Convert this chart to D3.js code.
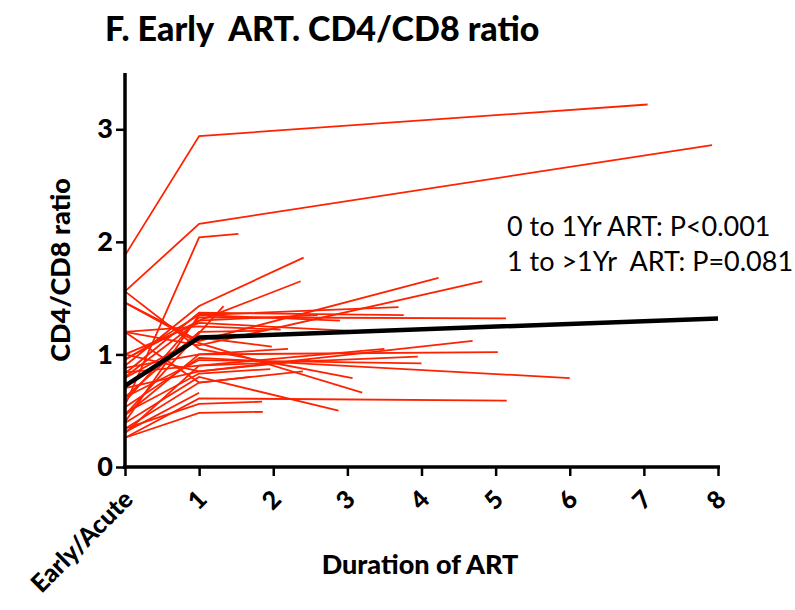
<!DOCTYPE html>
<html><head><meta charset="utf-8">
<script src="https://cdn.jsdelivr.net/npm/d3@7/dist/d3.min.js"></script>
<style>body{margin:0;background:#fff;} svg{display:block;} text{white-space:pre;}</style>
</head><body>
<script>
// ---- data ----
const xTickValues = [0,1,2,3,4,5,6,7,8];
const xTickLabels = ["Early/Acute","1","2","3","4","5","6","7","8"];
const yTickValues = [0,1,2,3];
// individual patients: [duration (yr), CD4/CD8 ratio]
const patients = [
  [[0,1.88],[1,2.94],[7.05,3.22]],
  [[0,1.56],[1,2.16],[7.92,2.86]],
  [[0,0.55],[1,2.04],[1.53,2.07]],
  [[0,0.90],[1,1.43],[2.41,1.86]],
  [[0,0.80],[1,1.30],[2.37,1.65]],
  [[0,0.46],[1.33,1.43]],
  [[0,1.46],[1,1.12],[4.23,1.68]],
  [[0,1.20],[1,1.08],[4.82,1.65]],
  [[0,0.95],[1,1.35],[3.69,1.42]],
  [[0,0.83],[1,1.37],[3.76,1.35]],
  [[0,0.58],[1,1.33],[5.14,1.32]],
  [[0,0.40],[1,1.35],[2.90,1.30]],
  [[0,1.00],[1,0.85],[4.69,1.12]],
  [[0,0.88],[1,1.00],[5.03,1.02]],
  [[0,0.30],[1,0.90],[3.95,0.98]],
  [[0,1.56],[1,1.05],[3.07,0.79]],
  [[0,1.46],[1,1.10],[3.20,0.66]],
  [[0,0.53],[1,0.97],[6.00,0.79]],
  [[0,0.26],[1,0.61],[5.15,0.59]],
  [[0,0.34],[1,0.56],[1.85,0.58]],
  [[0,0.26],[1,0.48],[1.86,0.49]],
  [[0,0.31],[1,0.66]],
  [[0,0.62],[1,1.20],[1.86,1.21]],
  [[0,0.79],[1,1.15],[1.98,1.07]],
  [[0,0.48],[1,0.83],[1.96,0.87]],
  [[0,0.39],[1,0.80],[2.88,0.50]],
  [[0,1.20],[1,0.75],[2.40,0.85]],
  [[0,0.96],[1,1.30],[2.60,1.35]],
  [[0,0.84],[1,0.90],[3.50,1.05]],
  [[0,0.46],[1,1.00],[2.20,1.05]],
  [[0,0.70],[1,0.85],[2.50,0.95]],
  [[0,1.20],[1,1.25],[2.10,1.22]],
  [[0,0.34],[1,0.75],[1.70,0.80]],
  [[0,1.00],[1,1.28],[3.30,1.20]],
  [[0,0.62],[1,0.95],[4.00,0.92]]
];
const meanLine = [[0,0.72],[1,1.15],[8,1.32]];
const annotations = ["0 to 1Yr ART: P<0.001","1 to >1Yr  ART: P=0.081"];

// ---- chart ----
const W=795,H=610;
const svg=d3.select("body").append("svg").attr("width",W).attr("height",H);
const x=d3.scaleLinear().domain([0,8]).range([125,718]);
const y=d3.scaleLinear().domain([0,3.5]).range([467,73]);
const font="Lato, 'Open Sans', sans-serif";

const line=d3.line().x(d=>x(d[0])).y(d=>y(d[1]));
svg.append("g").selectAll("path").data(patients).join("path")
  .attr("d",line).attr("fill","none").attr("stroke","#ff2200").attr("stroke-width",1.8);
svg.append("path").datum(meanLine).attr("d",line).attr("fill","none")
  .attr("stroke","#000").attr("stroke-width",4.5).attr("stroke-linejoin","round");

// axes
const xa=svg.append("g").attr("transform","translate(0,467)")
  .call(d3.axisBottom(x).tickValues(xTickValues).tickSize(9).tickFormat((d,i)=>xTickLabels[i]));
xa.select(".domain").attr("stroke-width",3.5).attr("d","M123,0H720");
xa.selectAll(".tick line").attr("stroke-width",2.5);
xa.selectAll(".tick text").attr("font-family",font).attr("font-weight",900).attr("font-size",25)
  .attr("fill","#000").attr("text-anchor","end").attr("dy",null).attr("y",0)
  .attr("transform","translate(9,34) rotate(-45)");

const ya=svg.append("g").attr("transform","translate(125,0)")
  .call(d3.axisLeft(y).tickValues(yTickValues).tickSize(9).tickFormat(d3.format("d")));
ya.select(".domain").attr("stroke-width",3.5).attr("d","M0,73V469");
ya.selectAll(".tick line").attr("stroke-width",2.5);
ya.selectAll(".tick text").attr("font-family",font).attr("font-weight",900).attr("font-size",27)
  .attr("fill","#000").attr("x",-12);

// labels
svg.append("text").attr("x",105).attr("y",41).text("F. Early  ART. CD4/CD8 ratio")
  .attr("font-family",font).attr("font-weight",900).attr("font-size",34);
svg.append("text").attr("transform","translate(70,270) rotate(-90)").attr("text-anchor","middle")
  .text("CD4/CD8 ratio").attr("font-family",font).attr("font-weight",900).attr("font-size",27);
svg.append("text").attr("x",420).attr("y",574).attr("text-anchor","middle").text("Duration of ART")
  .attr("font-family",font).attr("font-weight",900).attr("font-size",27);
svg.append("g").selectAll("text").data(annotations).join("text")
  .attr("x",507).attr("y",(d,i)=>236+i*35).text(d=>d)
  .attr("font-family",font).attr("font-size",27).attr("fill","#000");
</script>
</body></html>
